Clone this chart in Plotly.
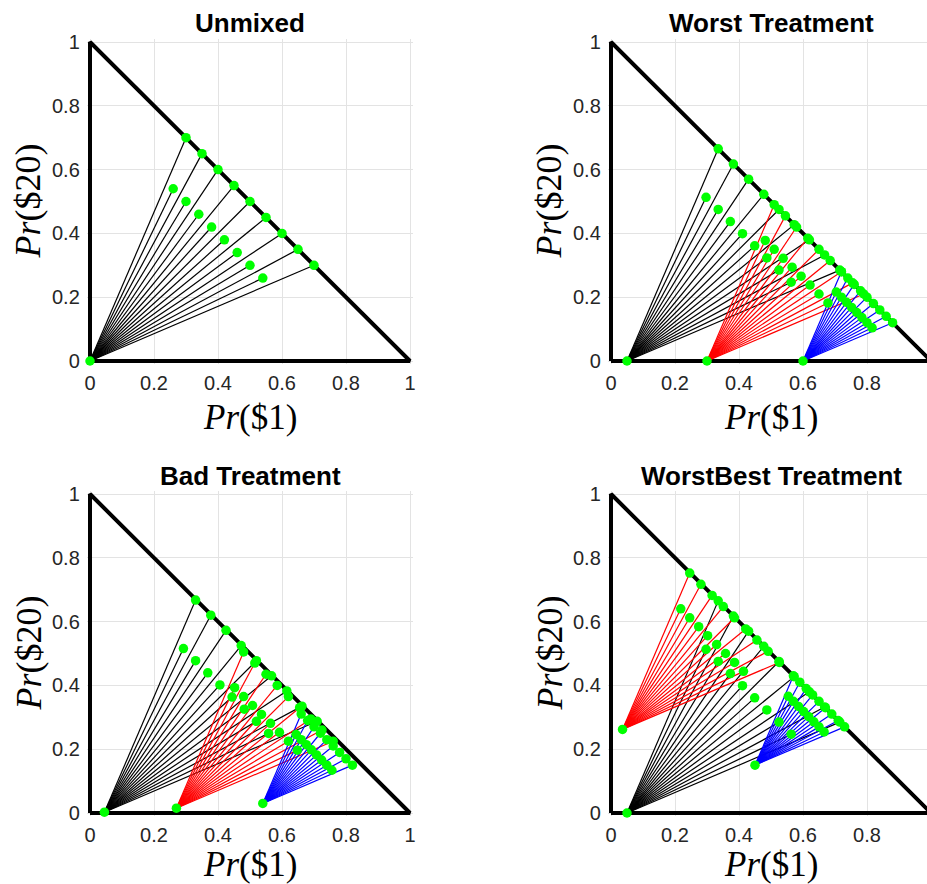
import plotly.graph_objects as go

# ---------------- data ----------------
tri_x = [0, 1, 0, 0]
tri_y = [0, 0, 1, 0]

# Unmixed
un_k_origin = [0.0, 0.0]
un_k_x = [0.30, 0.35, 0.40, 0.45, 0.50, 0.55, 0.60, 0.65, 0.70,
          0.26, 0.30, 0.34, 0.38, 0.42, 0.46, 0.50, 0.54]
un_k_y = [0.70, 0.65, 0.60, 0.55, 0.50, 0.45, 0.40, 0.35, 0.30,
          0.54, 0.50, 0.46, 0.42, 0.38, 0.34, 0.30, 0.26]

# Worst Treatment
wo_k_origin = [0.05, 0.0]
wo_k_x = [0.335, 0.3825, 0.43, 0.4775, 0.525, 0.5725, 0.62, 0.6675, 0.715,
          0.297, 0.335, 0.373, 0.411, 0.449, 0.487, 0.525, 0.563]
wo_k_y = [0.665, 0.6175, 0.57, 0.5225, 0.475, 0.4275, 0.38, 0.3325, 0.285,
          0.513, 0.475, 0.437, 0.399, 0.361, 0.323, 0.285, 0.247]
wo_r_origin = [0.30, 0.0]
wo_r_x = [0.51, 0.545, 0.58, 0.615, 0.65, 0.685, 0.72, 0.755, 0.79,
          0.482, 0.51, 0.538, 0.566, 0.594, 0.622, 0.65, 0.678]
wo_r_y = [0.49, 0.455, 0.42, 0.385, 0.35, 0.315, 0.28, 0.245, 0.21,
          0.378, 0.35, 0.322, 0.294, 0.266, 0.238, 0.21, 0.182]
wo_b_origin = [0.60, 0.0]
wo_b_x = [0.72, 0.74, 0.76, 0.78, 0.80, 0.82, 0.84, 0.86, 0.88,
          0.704, 0.72, 0.736, 0.752, 0.768, 0.784, 0.80, 0.816]
wo_b_y = [0.28, 0.26, 0.24, 0.22, 0.20, 0.18, 0.16, 0.14, 0.12,
          0.216, 0.20, 0.184, 0.168, 0.152, 0.136, 0.12, 0.104]

# Bad Treatment
ba_k_origin = [0.045, 0.0025]
ba_k_x = [0.33, 0.3775, 0.425, 0.4725, 0.52, 0.5675, 0.615, 0.6625, 0.71,
          0.292, 0.33, 0.368, 0.406, 0.444, 0.482, 0.52, 0.558]
ba_k_y = [0.6675, 0.62, 0.5725, 0.525, 0.4775, 0.43, 0.3825, 0.335, 0.2875,
          0.5155, 0.4775, 0.4395, 0.4015, 0.3635, 0.3255, 0.2875, 0.2495]
ba_r_origin = [0.27, 0.015]
ba_r_x = [0.48, 0.515, 0.55, 0.585, 0.62, 0.655, 0.69, 0.725, 0.76,
          0.452, 0.48, 0.508, 0.536, 0.564, 0.592, 0.62, 0.648]
ba_r_y = [0.505, 0.47, 0.435, 0.40, 0.365, 0.33, 0.295, 0.26, 0.225,
          0.393, 0.365, 0.337, 0.309, 0.281, 0.253, 0.225, 0.197]
ba_b_origin = [0.54, 0.03]
ba_b_x = [0.66, 0.68, 0.70, 0.72, 0.74, 0.76, 0.78, 0.80, 0.82,
          0.644, 0.66, 0.676, 0.692, 0.708, 0.724, 0.74, 0.756]
ba_b_y = [0.31, 0.29, 0.27, 0.25, 0.23, 0.21, 0.19, 0.17, 0.15,
          0.246, 0.23, 0.214, 0.198, 0.182, 0.166, 0.15, 0.134]

# WorstBest Treatment
wb_k_origin = [0.05, 0.0]
wb_k_x = [0.335, 0.3825, 0.43, 0.4775, 0.525, 0.5725, 0.62, 0.6675, 0.715,
          0.297, 0.335, 0.373, 0.411, 0.449, 0.487, 0.525, 0.563]
wb_k_y = [0.665, 0.6175, 0.57, 0.5225, 0.475, 0.4275, 0.38, 0.3325, 0.285,
          0.513, 0.475, 0.437, 0.399, 0.361, 0.323, 0.285, 0.247]
wb_r_origin = [0.036, 0.262]
wb_r_x = [0.246, 0.281, 0.316, 0.351, 0.386, 0.421, 0.456, 0.491, 0.526,
          0.218, 0.246, 0.274, 0.302, 0.330, 0.358, 0.386, 0.414]
wb_r_y = [0.752, 0.717, 0.682, 0.647, 0.612, 0.577, 0.542, 0.507, 0.472,
          0.640, 0.612, 0.584, 0.556, 0.528, 0.500, 0.472, 0.444]
wb_b_origin = [0.45, 0.15]
wb_b_x = [0.57, 0.59, 0.61, 0.63, 0.65, 0.67, 0.69, 0.71, 0.73,
          0.554, 0.57, 0.586, 0.602, 0.618, 0.634, 0.65, 0.666]
wb_b_y = [0.43, 0.41, 0.39, 0.37, 0.35, 0.33, 0.31, 0.29, 0.27,
          0.366, 0.35, 0.334, 0.318, 0.302, 0.286, 0.27, 0.254]

titles = ["Unmixed", "Worst Treatment", "Bad Treatment", "WorstBest Treatment"]
tick_vals = [0, 0.2, 0.4, 0.6, 0.8, 1]
tick_text = ["0", "0.2", "0.4", "0.6", "0.8", "1"]

panels = [
    [("black", un_k_origin, un_k_x, un_k_y)],
    [("black", wo_k_origin, wo_k_x, wo_k_y), ("red", wo_r_origin, wo_r_x, wo_r_y),
     ("blue", wo_b_origin, wo_b_x, wo_b_y)],
    [("black", ba_k_origin, ba_k_x, ba_k_y), ("red", ba_r_origin, ba_r_x, ba_r_y),
     ("blue", ba_b_origin, ba_b_x, ba_b_y)],
    [("black", wb_k_origin, wb_k_x, wb_k_y), ("red", wb_r_origin, wb_r_x, wb_r_y),
     ("blue", wb_b_origin, wb_b_x, wb_b_y)],
]

COLORS = {"black": "#000000", "red": "#ff0000", "blue": "#0000ff"}
GREEN = "#00ff00"

# ---------------- layout geometry ----------------
W, H = 927, 884
SX = 320.0   # px per unit x
SY = 319.0   # px per unit y
PAD = 0.01
col_x0 = [90.0, 611.0]    # px of x=0
row_y0 = [361.0, 813.0]   # px of y=0 (from top)

fig = go.Figure()

axis_font = dict(family="Liberation Sans, Arial, sans-serif", size=20, color="#262626")
layout_axes = {}
for i in range(4):
    r, c = divmod(i, 2)
    x0 = col_x0[c]
    xmax = 1 + PAD if c == 0 else (W - x0) / SX
    xl = x0 - PAD * SX
    xr = min(x0 + xmax * SX, W)
    y0 = row_y0[r]
    yb = y0 + PAD * SY
    yt = y0 - (1 + PAD) * SY
    sfx = "" if i == 0 else str(i + 1)
    layout_axes["xaxis" + sfx] = dict(
        domain=[xl / W, xr / W], range=[-PAD, xmax], anchor="y" + sfx,
        tickvals=tick_vals, ticktext=tick_text, showgrid=True, gridcolor="#e3e3e3",
        gridwidth=1, zeroline=False, showline=False, ticks="outside", ticklen=1,
        tickcolor="rgba(0,0,0,0)", tickfont=axis_font, fixedrange=True,
        automargin=False)
    layout_axes["yaxis" + sfx] = dict(
        domain=[1 - yb / H, 1 - yt / H], range=[-PAD, 1 + PAD], anchor="x" + sfx,
        tickvals=tick_vals, ticktext=tick_text, showgrid=True, gridcolor="#e3e3e3",
        gridwidth=1, zeroline=False, showline=False, ticks="outside", ticklen=2,
        tickcolor="rgba(0,0,0,0)", tickfont=axis_font, fixedrange=True,
        automargin=False)

    xa = "x" + sfx
    ya = "y" + sfx
    # triangle
    fig.add_trace(go.Scatter(x=tri_x, y=tri_y, mode="lines", xaxis=xa, yaxis=ya,
                             line=dict(color="black", width=4), hoverinfo="skip",
                             showlegend=False))
    # fan lines
    for color, org, px, py in panels[i]:
        lx, ly = [], []
        for a, b in zip(px, py):
            lx += [org[0], a, None]
            ly += [org[1], b, None]
        fig.add_trace(go.Scatter(x=lx, y=ly, mode="lines", xaxis=xa, yaxis=ya,
                                 line=dict(color=COLORS[color], width=1.2),
                                 hoverinfo="skip", showlegend=False))
    # dots
    for color, org, px, py in panels[i]:
        fig.add_trace(go.Scatter(x=[org[0]] + px, y=[org[1]] + py, mode="markers",
                                 xaxis=xa, yaxis=ya, cliponaxis=False,
                                 marker=dict(color=GREEN, size=9.5, line=dict(width=0)),
                                 hoverinfo="skip", showlegend=False))

annotations = []
for i in range(4):
    r, c = divmod(i, 2)
    cx = col_x0[c] + 0.5 * SX
    ty = 23 if r == 0 else 476
    annotations.append(dict(text="<b>%s</b>" % titles[i], x=cx / W, y=1 - ty / H,
                            xref="paper", yref="paper", showarrow=False,
                            xanchor="center", yanchor="middle",
                            font=dict(family="Liberation Sans, Arial, sans-serif",
                                      size=26, color="black")))
    # x label
    xly = row_y0[r] + (56 if r == 0 else 51)
    annotations.append(dict(text="<i>Pr</i>($1)", x=cx / W, y=1 - xly / H,
                            xref="paper", yref="paper", showarrow=False,
                            xanchor="center", yanchor="middle", borderpad=0,
                            font=dict(family="Liberation Serif, serif", size=35,
                                      color="black")))
    # y label
    ylx = col_x0[c] - 62
    yly = row_y0[r] - 0.5 * SY
    annotations.append(dict(text="<i>Pr</i>($20)", x=ylx / W, y=1 - yly / H,
                            xref="paper", yref="paper", showarrow=False,
                            xanchor="center", yanchor="middle", textangle=-90,
                            borderpad=0,
                            font=dict(family="Liberation Serif, serif", size=36,
                                      color="black")))

fig.update_layout(width=W, height=H, margin=dict(l=0, r=0, t=0, b=0, pad=0),
                  paper_bgcolor="white", plot_bgcolor="white",
                  annotations=annotations, **layout_axes)

fig.write_html("out.html")
